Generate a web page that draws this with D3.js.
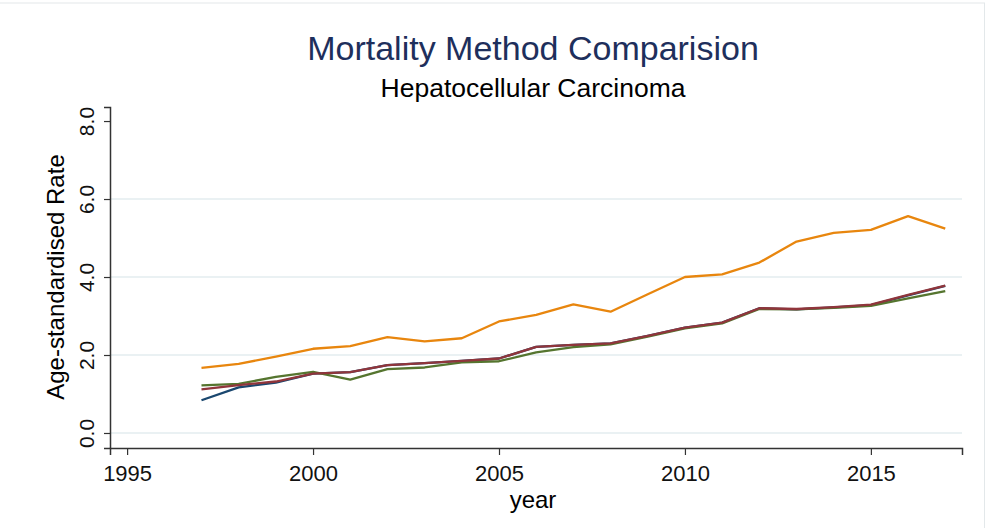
<!DOCTYPE html>
<html>
<head>
<meta charset="utf-8">
<script src="https://cdn.jsdelivr.net/npm/d3@7"></script>
<style>
  body { margin: 0; background: #fff; }
  text { font-family: "Liberation Sans", Arial, sans-serif; }
</style>
</head>
<body>
<div id="chart"></div>
<script>
// data
const years = [1997, 1998, 1999, 2000, 2001, 2002, 2003, 2004, 2005, 2006, 2007,
  2008, 2009, 2010, 2011, 2012, 2013, 2014, 2015, 2016, 2017];
const seriesBlue = [0.84, 1.17, 1.29, 1.52, 1.56, 1.74, 1.79, 1.85, 1.91, 2.21, 2.26,
  2.30, 2.49, 2.70, 2.83, 3.20, 3.17, 3.22, 3.28, 3.53, 3.77];
const seriesRed = [1.12, 1.23, 1.32, 1.52, 1.56, 1.74, 1.79, 1.85, 1.91, 2.21, 2.26,
  2.30, 2.49, 2.70, 2.83, 3.20, 3.18, 3.23, 3.29, 3.54, 3.78];
const seriesGreen = [1.22, 1.26, 1.44, 1.57, 1.37, 1.64, 1.68, 1.81, 1.84, 2.07, 2.20,
  2.27, 2.47, 2.68, 2.81, 3.18, 3.17, 3.21, 3.26, 3.45, 3.64];
const seriesOrange = [1.67, 1.77, 1.96, 2.16, 2.23, 2.46, 2.35, 2.43, 2.86, 3.03, 3.30,
  3.11, 3.56, 4.00, 4.07, 4.37, 4.91, 5.13, 5.21, 5.56, 5.24];
const yTicks = [0, 2, 4, 6, 8];
const xTicks = [1995, 2000, 2005, 2010, 2015];

const width = 988, height = 528;
const svg = d3.select('#chart').append('svg')
  .attr('width', width)
  .attr('height', height);

// faint outer frame
svg.append('rect')
  .attr('x', -2).attr('y', 3)
  .attr('width', width + 0.5 - 2).attr('height', height)
  .attr('fill', 'white')
  .attr('stroke', '#e3e8ea');

const plotLeft = 110, plotRight = 962, plotTop = 107, plotBottom = 448;

let x = d3.scaleLinear().domain([1994.54, 2017.45]).range([plotLeft, plotRight]);
let y = d3.scaleLinear().domain([-0.385, 8.36]).range([plotBottom, plotTop]);

// gridlines
svg.selectAll('.grid')
  .data(yTicks.filter(d => d < 8))
  .enter()
  .append('line')
  .attr('x1', plotLeft).attr('x2', plotRight)
  .attr('y1', d => y(d)).attr('y2', d => y(d))
  .attr('stroke', '#eaf1f3')
  .attr('stroke-width', 2);

// axes
let yAxis = svg.append('g')
  .attr('transform', 'translate(' + plotLeft + ',0)')
  .call(d3.axisLeft(y).tickValues(yTicks).tickSize(6).tickFormat(d3.format('.1f')));
let xAxis = svg.append('g')
  .attr('transform', 'translate(0,' + plotBottom + ')')
  .call(d3.axisBottom(x).tickValues(xTicks).tickSize(7).tickFormat(d3.format('d')));

[yAxis, xAxis].forEach(function (a) {
  a.attr('font-family', null).attr('font-size', null);
  a.select('.domain').attr('stroke', '#333').attr('stroke-width', 1.5);
  a.selectAll('.tick line').attr('stroke', '#333').attr('stroke-width', 1.2);
  a.selectAll('.tick text').attr('fill', '#111');
});

// rotated y tick labels
yAxis.selectAll('.tick text')
  .attr('font-size', '21px')
  .attr('transform', 'rotate(-90)')
  .attr('x', 0).attr('y', -16)
  .attr('dy', 0)
  .attr('text-anchor', 'middle');

xAxis.selectAll('.tick text')
  .attr('font-size', '22px')
  .attr('y', 33)
  .attr('dy', 0);

// lines
let line = d3.line()
  .x(function (d) { return x(d[0]); })
  .y(function (d) { return y(d[1]); });

let series = [
  { values: seriesBlue, color: '#1a476f' },
  { values: seriesGreen, color: '#55752f' },
  { values: seriesRed, color: '#90353b' },
  { values: seriesOrange, color: '#e8860e' }
];

svg.selectAll('.series')
  .data(series)
  .enter()
  .append('path')
  .attr('d', d => line(years.map((yr, i) => [yr, d.values[i]])))
  .attr('fill', 'none')
  .attr('stroke', d => d.color)
  .attr('stroke-width', 2.3)
  .attr('stroke-linejoin', 'round');

// titles
svg.append('text')
  .attr('x', 533).attr('y', 60)
  .attr('text-anchor', 'middle')
  .attr('fill', '#1e2f5c')
  .attr('font-size', '34px')
  .text('Mortality Method Comparision');

svg.append('text')
  .attr('x', 533).attr('y', 97)
  .attr('text-anchor', 'middle')
  .attr('fill', '#000')
  .attr('font-size', '26.5px')
  .text('Hepatocellular Carcinoma');

svg.append('text')
  .attr('transform', 'translate(64,' + ((y(0) + y(8)) / 2) + ') rotate(-90)')
  .attr('text-anchor', 'middle')
  .attr('fill', '#000')
  .attr('font-size', '24px')
  .text('Age-standardised Rate');

svg.append('text')
  .attr('x', 533).attr('y', 508)
  .attr('text-anchor', 'middle')
  .attr('fill', '#000')
  .attr('font-size', '24px')
  .text('year');
</script>
</body>
</html>
